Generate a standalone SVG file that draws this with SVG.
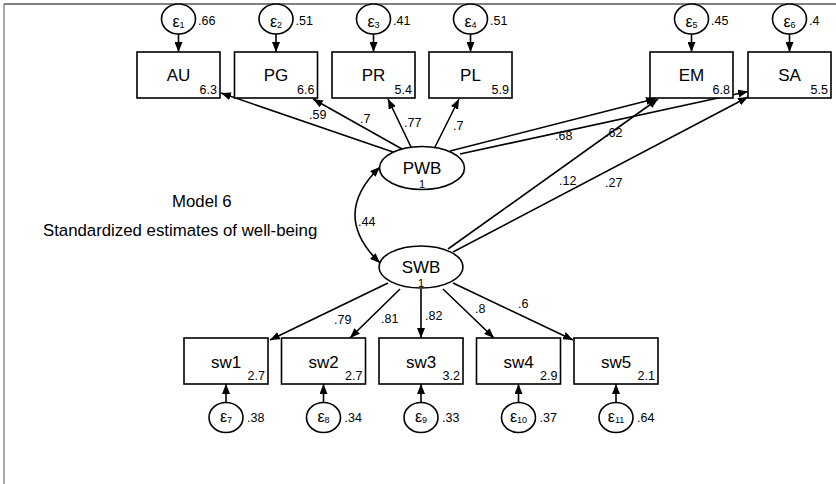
<svg xmlns="http://www.w3.org/2000/svg" width="836" height="484" viewBox="0 0 836 484">
<style>
.box{fill:#fff;stroke:#000;stroke-width:1.6}
.ell{fill:#fff;stroke:#000;stroke-width:1.6}
.lbl{font-family:"Liberation Sans",Arial,sans-serif;font-size:17px;fill:#000;text-anchor:middle}
.one{font-family:"Liberation Sans",Arial,sans-serif;font-size:11px;fill:#000;text-anchor:middle}
.num{font-family:"Liberation Sans",Arial,sans-serif;font-size:12.5px;fill:#000;text-anchor:end}
.val{font-family:"Liberation Sans",Arial,sans-serif;font-size:12.5px;fill:#000}
.eps{font-family:"Liberation Sans",Arial,sans-serif;font-size:16px;fill:#000;text-anchor:middle}
.sub{font-size:9px}
.txt{font-family:"Liberation Sans",Arial,sans-serif;font-size:16.8px;fill:#000}
.ln{stroke:#000;stroke-width:1.6;fill:none;marker-end:url(#arr)}
</style>
<defs>
<marker id="arr" viewBox="0 0 10 8" refX="10" refY="4" markerWidth="10" markerHeight="8" markerUnits="userSpaceOnUse" orient="auto">
<path d="M0,0 L10,4 L0,8 z" fill="#000"/>
</marker>
<marker id="arrs" viewBox="0 0 10 8" refX="10" refY="4" markerWidth="10" markerHeight="8" markerUnits="userSpaceOnUse" orient="auto-start-reverse">
<path d="M0,0 L10,4 L0,8 z" fill="#000"/>
</marker>
</defs>
<rect x="0" y="0" width="836" height="484" fill="#fff"/>
<line x1="4" y1="4" x2="836" y2="4" stroke="#808080" stroke-width="2"/>
<line x1="4" y1="4" x2="4" y2="484" stroke="#555" stroke-width="1"/>

<g id="connectors">
<line class="ln" x1="178.5" y1="34" x2="178.5" y2="52"/>
<line class="ln" x1="276" y1="34" x2="276" y2="52"/>
<line class="ln" x1="373.5" y1="34" x2="373.5" y2="52"/>
<line class="ln" x1="470.5" y1="34" x2="470.5" y2="52"/>
<line class="ln" x1="691.5" y1="34" x2="691.5" y2="52"/>
<line class="ln" x1="789.5" y1="34" x2="789.5" y2="52"/>
<line class="ln" x1="226" y1="403" x2="226" y2="384"/>
<line class="ln" x1="323.5" y1="403" x2="323.5" y2="384"/>
<line class="ln" x1="421" y1="403" x2="421" y2="384"/>
<line class="ln" x1="518.5" y1="403" x2="518.5" y2="384"/>
<line class="ln" x1="616" y1="403" x2="616" y2="384"/>
<line class="ln" x1="393" y1="152" x2="221" y2="93"/>
<line class="ln" x1="402" y1="149" x2="313" y2="99"/>
<line class="ln" x1="411" y1="147" x2="388" y2="99"/>
<line class="ln" x1="435" y1="147" x2="459" y2="99"/>
<line class="ln" x1="450" y1="151" x2="656" y2="98.5"/>
<line class="ln" x1="460" y1="154" x2="748" y2="91.5"/>
<line class="ln" x1="448" y1="249" x2="658" y2="99"/>
<line class="ln" x1="453" y1="252" x2="748" y2="97"/>
<line class="ln" x1="388" y1="283" x2="270" y2="340"/>
<line class="ln" x1="400" y1="289" x2="350" y2="338"/>
<line class="ln" x1="421" y1="289" x2="421" y2="338"/>
<line class="ln" x1="443" y1="289" x2="494" y2="338"/>
<line class="ln" x1="453" y1="283" x2="573" y2="340"/>
<path d="M380,167 Q330,215 380,263" stroke="#000" stroke-width="1.6" fill="none" marker-start="url(#arrs)" marker-end="url(#arrs)"/>
<text class="val" x="309" y="119">.59</text>
<text class="val" x="360" y="123">.7</text>
<text class="val" x="404" y="127">.77</text>
<text class="val" x="453" y="130">.7</text>
<text class="val" x="555" y="140">.68</text>
<text class="val" x="605" y="137">.62</text>
<text class="val" x="559" y="185">.12</text>
<text class="val" x="605" y="187">.27</text>
<text class="val" x="358" y="226">.44</text>
<text class="val" x="334" y="324">.79</text>
<text class="val" x="381" y="323">.81</text>
<text class="val" x="425" y="320">.82</text>
<text class="val" x="475" y="313">.8</text>
<text class="val" x="518" y="308">.6</text>
</g>

<g id="e1"><ellipse class="ell" cx="178.5" cy="19" rx="17" ry="15"/><text class="eps" x="178.5" y="27">ε<tspan class="sub" dy="1">1</tspan></text><text class="val" x="198" y="25">.66</text></g>
<g id="e2"><ellipse class="ell" cx="276" cy="19" rx="17" ry="15"/><text class="eps" x="276" y="27">ε<tspan class="sub" dy="1">2</tspan></text><text class="val" x="295.5" y="25">.51</text></g>
<g id="e3"><ellipse class="ell" cx="373.5" cy="19" rx="17" ry="15"/><text class="eps" x="373.5" y="27">ε<tspan class="sub" dy="1">3</tspan></text><text class="val" x="393" y="25">.41</text></g>
<g id="e4"><ellipse class="ell" cx="470.5" cy="19" rx="17" ry="15"/><text class="eps" x="470.5" y="27">ε<tspan class="sub" dy="1">4</tspan></text><text class="val" x="490" y="25">.51</text></g>
<g id="e5"><ellipse class="ell" cx="691.5" cy="19" rx="17" ry="15"/><text class="eps" x="691.5" y="27">ε<tspan class="sub" dy="1">5</tspan></text><text class="val" x="711" y="25">.45</text></g>
<g id="e6"><ellipse class="ell" cx="789.5" cy="19" rx="17" ry="15"/><text class="eps" x="789.5" y="27">ε<tspan class="sub" dy="1">6</tspan></text><text class="val" x="809" y="25">.4</text></g>

<g id="AU"><rect class="box" x="137" y="52" width="83" height="46"/><text class="lbl" x="178.5" y="81">AU</text><text class="num" x="217" y="94">6.3</text></g>
<g id="PG"><rect class="box" x="234.5" y="52" width="83" height="46"/><text class="lbl" x="276" y="81">PG</text><text class="num" x="314.5" y="94">6.6</text></g>
<g id="PR"><rect class="box" x="332" y="52" width="83" height="46"/><text class="lbl" x="373.5" y="81">PR</text><text class="num" x="412" y="94">5.4</text></g>
<g id="PL"><rect class="box" x="429" y="52" width="83" height="46"/><text class="lbl" x="470.5" y="81">PL</text><text class="num" x="509" y="94">5.9</text></g>
<g id="EM"><rect class="box" x="650" y="52" width="83" height="46"/><text class="lbl" x="691.5" y="81">EM</text><text class="num" x="730" y="94">6.8</text></g>
<g id="SA"><rect class="box" x="748" y="52" width="83" height="46"/><text class="lbl" x="789.5" y="81">SA</text><text class="num" x="828" y="94">5.5</text></g>

<g id="PWB"><ellipse class="ell" cx="422" cy="168" rx="42.5" ry="21.5"/><text class="lbl" x="422" y="174">PWB</text><text class="one" x="422" y="188">1</text></g>
<g id="SWB"><ellipse class="ell" cx="421" cy="267" rx="42" ry="21"/><text class="lbl" x="421" y="273">SWB</text><text class="one" x="421" y="287">1</text></g>

<g id="sw1"><rect class="box" x="184" y="338" width="84" height="46"/><text class="lbl" x="226" y="368">sw1</text><text class="num" x="265" y="380">2.7</text></g>
<g id="sw2"><rect class="box" x="281.5" y="338" width="84" height="46"/><text class="lbl" x="323.5" y="368">sw2</text><text class="num" x="362.5" y="380">2.7</text></g>
<g id="sw3"><rect class="box" x="379" y="338" width="84" height="46"/><text class="lbl" x="421" y="368">sw3</text><text class="num" x="460" y="380">3.2</text></g>
<g id="sw4"><rect class="box" x="476.5" y="338" width="84" height="46"/><text class="lbl" x="518.5" y="368">sw4</text><text class="num" x="557.5" y="380">2.9</text></g>
<g id="sw5"><rect class="box" x="574" y="338" width="84" height="46"/><text class="lbl" x="616" y="368">sw5</text><text class="num" x="655" y="380">2.1</text></g>

<g id="e7"><ellipse class="ell" cx="226" cy="417.5" rx="17" ry="15"/><text class="eps" x="226" y="422">ε<tspan class="sub" dy="1">7</tspan></text><text class="val" x="247" y="422">.38</text></g>
<g id="e8"><ellipse class="ell" cx="323.5" cy="417.5" rx="17" ry="15"/><text class="eps" x="323.5" y="422">ε<tspan class="sub" dy="1">8</tspan></text><text class="val" x="344.5" y="422">.34</text></g>
<g id="e9"><ellipse class="ell" cx="421" cy="417.5" rx="17" ry="15"/><text class="eps" x="421" y="422">ε<tspan class="sub" dy="1">9</tspan></text><text class="val" x="442" y="422">.33</text></g>
<g id="e10"><ellipse class="ell" cx="518.5" cy="417.5" rx="17" ry="15"/><text class="eps" x="518.5" y="422">ε<tspan class="sub" dy="1">10</tspan></text><text class="val" x="539.5" y="422">.37</text></g>
<g id="e11"><ellipse class="ell" cx="616" cy="417.5" rx="17" ry="15"/><text class="eps" x="616" y="422">ε<tspan class="sub" dy="1">11</tspan></text><text class="val" x="637" y="422">.64</text></g>

<g id="title"><text class="txt" x="172" y="207">Model 6</text><text class="txt" x="43" y="236">Standardized estimates of well-being</text></g>
</svg>
